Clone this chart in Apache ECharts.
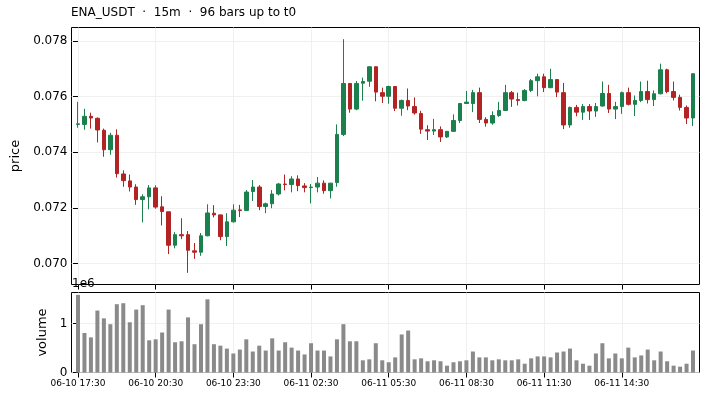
<!DOCTYPE html>
<html>
<head>
<meta charset="utf-8">
<script src="https://cdn.jsdelivr.net/npm/echarts@6/dist/echarts.min.js"></script>
<style>
html,body{margin:0;padding:0;background:#fff;}
#chart{width:708px;height:400px;}
</style>
</head>
<body>
<div id="chart"></div>
<script>
const opens = [0.07500,0.07500,0.07529,0.07522,0.07479,0.07409,0.07461,0.07322,0.07297,0.07275,
0.07230,0.07240,0.07272,0.07204,0.07186,0.07066,0.07104,0.07104,0.07046,0.07041,
0.07100,0.07181,0.07175,0.07097,0.07150,0.07193,0.07191,0.07259,0.07275,0.07205,
0.07215,0.07250,0.07286,0.07284,0.07304,0.07279,0.07273,0.07275,0.07289,0.07262,
0.07291,0.07464,0.07647,0.07555,0.07648,0.07655,0.07707,0.07614,0.07601,0.07636,
0.07558,0.07586,0.07564,0.07539,0.07481,0.07476,0.07481,0.07455,0.07475,0.07514,
0.07575,0.07575,0.07614,0.07518,0.07505,0.07532,0.07550,0.07614,0.07589,0.07586,
0.07622,0.07657,0.07671,0.07632,0.07661,0.07614,0.07498,0.07561,0.07544,0.07564,
0.07548,0.07566,0.07611,0.07555,0.07564,0.07614,0.07572,0.07586,0.07618,0.07589,
0.07610,0.07696,0.07618,0.07597,0.07561,0.07523];
const closes = [0.07502,0.07529,0.07523,0.07480,0.07409,0.07461,0.07323,0.07298,0.07275,0.07230,
0.07240,0.07272,0.07203,0.07187,0.07066,0.07104,0.07100,0.07048,0.07041,0.07100,
0.07182,0.07175,0.07097,0.07150,0.07192,0.07191,0.07257,0.07275,0.07205,0.07215,
0.07250,0.07286,0.07284,0.07304,0.07280,0.07273,0.07275,0.07289,0.07262,0.07289,
0.07464,0.07647,0.07555,0.07647,0.07654,0.07707,0.07616,0.07601,0.07636,0.07558,
0.07586,0.07566,0.07541,0.07483,0.07476,0.07481,0.07455,0.07475,0.07514,0.07575,
0.07580,0.07614,0.07518,0.07505,0.07532,0.07550,0.07614,0.07591,0.07586,0.07622,
0.07657,0.07671,0.07632,0.07661,0.07616,0.07498,0.07561,0.07544,0.07564,0.07548,
0.07564,0.07611,0.07555,0.07564,0.07614,0.07572,0.07586,0.07618,0.07589,0.07610,
0.07696,0.07618,0.07597,0.07561,0.07523,0.07682];
const lows = [0.07488,0.07481,0.07485,0.07435,0.07384,0.07391,0.07309,0.07276,0.07259,0.07211,
0.07148,0.07195,0.07197,0.07137,0.07034,0.07055,0.07088,0.06967,0.07017,0.07028,
0.07098,0.07166,0.07084,0.07063,0.07148,0.07167,0.07190,0.07225,0.07192,0.07181,
0.07199,0.07245,0.07263,0.07256,0.07260,0.07256,0.07216,0.07256,0.07251,0.07234,
0.07276,0.07458,0.07542,0.07551,0.07585,0.07635,0.07583,0.07577,0.07574,0.07548,
0.07531,0.07551,0.07535,0.07466,0.07444,0.07462,0.07437,0.07451,0.07474,0.07505,
0.07573,0.07544,0.07505,0.07492,0.07499,0.07527,0.07549,0.07563,0.07568,0.07583,
0.07616,0.07601,0.07616,0.07630,0.07598,0.07483,0.07488,0.07529,0.07516,0.07516,
0.07527,0.07564,0.07541,0.07519,0.07538,0.07568,0.07530,0.07580,0.07575,0.07566,
0.07608,0.07612,0.07586,0.07550,0.07501,0.07494];
const highs = [0.07581,0.07556,0.07542,0.07525,0.07485,0.07470,0.07482,0.07335,0.07320,0.07285,
0.07249,0.07282,0.07281,0.07242,0.07186,0.07113,0.07163,0.07117,0.07074,0.07110,
0.07213,0.07210,0.07176,0.07181,0.07213,0.07211,0.07264,0.07300,0.07282,0.07219,
0.07264,0.07289,0.07320,0.07314,0.07317,0.07289,0.07286,0.07311,0.07299,0.07290,
0.07500,0.07806,0.07648,0.07656,0.07668,0.07708,0.07708,0.07632,0.07639,0.07637,
0.07589,0.07629,0.07597,0.07549,0.07497,0.07520,0.07493,0.07476,0.07536,0.07576,
0.07620,0.07624,0.07632,0.07526,0.07547,0.07581,0.07642,0.07620,0.07614,0.07627,
0.07663,0.07682,0.07682,0.07700,0.07662,0.07649,0.07564,0.07570,0.07573,0.07573,
0.07577,0.07654,0.07642,0.07581,0.07618,0.07632,0.07604,0.07654,0.07657,0.07622,
0.07718,0.07700,0.07654,0.07607,0.07568,0.07683];
const volumes = [1590000,810000,720000,1270000,1110000,990000,1400000,1420000,1030000,1290000,
1380000,660000,680000,820000,1290000,620000,640000,1130000,580000,990000,
1500000,580000,550000,490000,390000,470000,680000,430000,550000,450000,
700000,450000,620000,510000,450000,370000,600000,450000,450000,330000,
680000,990000,640000,640000,250000,270000,600000,250000,210000,310000,
780000,860000,270000,290000,230000,250000,230000,140000,210000,230000,
250000,430000,310000,310000,250000,270000,250000,250000,270000,180000,
290000,330000,330000,310000,410000,430000,490000,250000,180000,140000,
390000,600000,290000,390000,290000,510000,310000,350000,470000,250000,
430000,230000,140000,120000,180000,450000];
const timeTickIndex = [0,12,24,36,48,60,72,84];
const timeTickLabels = ['06-10 17:30','06-10 20:30','06-10 23:30','06-11 02:30','06-11 05:30','06-11 08:30','06-11 11:30','06-11 14:30'];
const priceTicks = [0.070,0.072,0.074,0.076,0.078];
const volumeTicks = [0,1000000];
const titleText = 'ENA_USDT  ·  15m  ·  96 bars up to t0';

const FONT = 'DejaVu Sans';
const UP = '#1b804d', DOWN = '#b22424';
const candleData = opens.map((o, i) => [i, o, closes[i], lows[i], highs[i]]);
const volData = volumes.map((v, i) => [i, v]);
const gridLine = {show: true, lineStyle: {color: '#ececec', width: 0.8}};
const tick = {show: true, length: 5, inside: false, lineStyle: {color: '#000', width: 1}};

const chart = echarts.init(document.getElementById('chart'), null, {renderer: 'canvas'});
chart.setOption({
  animation: false,
  backgroundColor: '#fff',
  textStyle: {fontFamily: FONT},
  title: {text: titleText, left: 71, top: 7, padding: 0, textStyle: {fontFamily: FONT, fontSize: 12, fontWeight: 'normal', color: '#000'}},
  graphic: [{type: 'text', left: 72, top: 278, style: {text: '1e6', font: '12px "DejaVu Sans"', fill: '#000'}}],
  grid: [
    {left: 71.5, top: 27.5, width: 628, height: 257, show: true, borderColor: '#000', borderWidth: 1, backgroundColor: 'transparent'},
    {left: 71.5, top: 292.5, width: 628, height: 80, show: true, borderColor: '#000', borderWidth: 1, backgroundColor: 'transparent'}
  ],
  xAxis: [
    {type: 'value', gridIndex: 0, min: -1, max: 96, axisLine: {show: false},
     axisTick: Object.assign({customValues: timeTickIndex}, tick),
     axisLabel: {show: false, customValues: timeTickIndex},
     splitLine: gridLine},
    {type: 'value', gridIndex: 1, min: -1, max: 96, axisLine: {show: false},
     axisTick: Object.assign({customValues: timeTickIndex}, tick),
     axisLabel: {customValues: timeTickIndex, margin: 7, fontFamily: FONT, fontSize: 9, color: '#000',
       formatter: v => timeTickLabels[timeTickIndex.indexOf(v)] || ''},
     splitLine: gridLine}
  ],
  yAxis: [
    {type: 'value', gridIndex: 0, min: 0.06925, max: 0.07848, scale: true,
     name: 'price', nameLocation: 'middle', nameGap: 49, nameTextStyle: {fontFamily: FONT, fontSize: 13, color: '#000'},
     axisLine: {show: false},
     axisTick: Object.assign({customValues: priceTicks}, tick),
     axisLabel: {customValues: priceTicks, margin: 4, fontFamily: FONT, fontSize: 12, color: '#000', formatter: v => v.toFixed(3)},
     splitLine: gridLine},
    {type: 'value', gridIndex: 1, min: 0, max: 1640000,
     name: 'volume', nameLocation: 'middle', nameGap: 21, nameTextStyle: {fontFamily: FONT, fontSize: 13, color: '#000'},
     axisLine: {show: false},
     axisTick: Object.assign({customValues: volumeTicks}, tick),
     axisLabel: {customValues: volumeTicks, margin: 4, fontFamily: FONT, fontSize: 12, color: '#000', formatter: v => String(v / 1000000)},
     splitLine: gridLine}
  ],
  series: [
    {type: 'candlestick', xAxisIndex: 0, yAxisIndex: 0, data: candleData, encode: {x: 0, y: [1, 2, 3, 4]},
     barWidth: 4,
     itemStyle: {color: UP, color0: DOWN, borderColor: UP, borderColor0: DOWN, borderWidth: 1}},
    {type: 'bar', xAxisIndex: 1, yAxisIndex: 1, data: volData, barWidth: 4, itemStyle: {color: '#8a8a8a'}}
  ]
});
</script>
</body>
</html>
